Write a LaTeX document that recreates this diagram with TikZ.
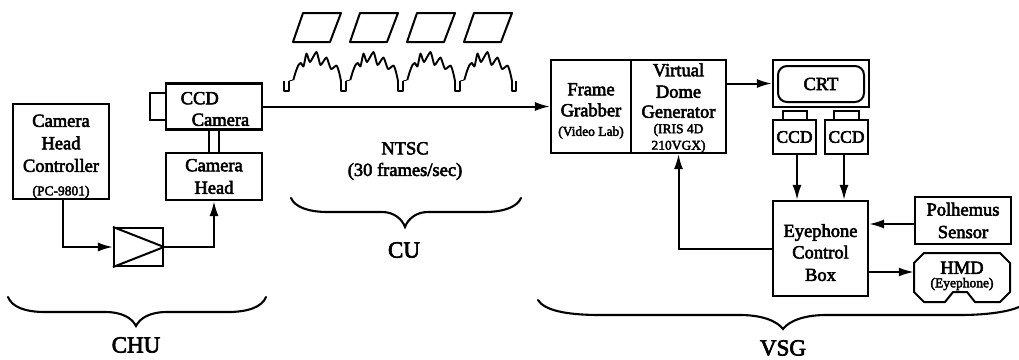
\documentclass[tikz,border=0pt]{standalone}
\usepackage{fontspec}
\setmainfont{Liberation Serif}[FakeBold=3]
\usetikzlibrary{arrows.meta}
\newcommand{\fnt}[1]{\fontsize{#1}{22.5}\selectfont}
\newcommand{\sm}{\fontsize{13.5}{16}\selectfont}
\newcommand{\dn}[1]{\rule{0pt}{#1}}
\tikzset{
  blk/.style={draw,line width=2.1pt,inner sep=0pt,align=center,font=\fnt{18.5},minimum width=#1},
  blk/.default=96pt,
  lnk/.style={line width=2pt,-{Latex[length=15pt,width=9pt]}},
  plain/.style={line width=2pt},
  brc/.style={line width=2.1pt,line cap=round},
  lbl/.style={inner sep=0pt,align=center,font=\fnt{18.5}},
  big/.style={inner sep=0pt,font=\fnt{23}}
}
\begin{document}
\begin{tikzpicture}[x=1pt,y=-1pt]
\useasboundingbox (0,0) rectangle (1019,359);
% boxes
\node[blk,minimum height=95pt] (ctrl) at (61,151.5) {\dn{22pt}Camera\\Head\\Controller\\[1pt]{\sm (PC-9801)}};
\node[blk,minimum height=46pt] (cam) at (214,106.5) {};
\node[lbl,align=left] (camtext) at (215,109) {CCD\\[-1pt]\hspace*{11pt}Camera};
\node[blk,minimum height=47pt] (head) at (214,176.5) {Camera\\Head};
\node[blk=49pt,minimum height=38pt] (amp) at (138.5,247) {};
\node[blk=80pt,minimum height=93pt] (frame) at (591,106.5) {\dn{21pt}Frame\\[-1.5pt]Grabber\\[-3pt]{\sm (Video Lab)}};
\node[blk=95pt,minimum height=93pt] (dome) at (678.5,106.5) {};
\node[lbl] (dometext) at (678.5,108) {Virtual\\[-1pt]Dome\\[-2.5pt]Generator\\[-7pt]{\sm (IRIS 4D}\\[-6pt]{\sm 210VGX)}};
\node[blk,minimum height=47pt,font=\fnt{18.5}] (crt) at (821,83.5) {};
\node[draw,line width=2pt,rounded corners=9pt,minimum width=86pt,minimum height=36pt,inner sep=0pt,font=\fnt{18.5}] (crtin) at (821,84) {CRT};
\node[blk=43pt,minimum height=34pt,font=\fnt{17.5}] (ccda) at (794.5,137) {CCD};
\node[blk=43pt,minimum height=34pt,font=\fnt{17.5}] (ccdb) at (846.5,137) {CCD};
\node[blk=24pt,minimum height=9pt] (taba) at (795,115.5) {};
\node[blk=25pt,minimum height=9pt] (tabb) at (846.5,115.5) {};
\node[blk=95pt,minimum height=95pt] (eye) at (820.5,248.5) {\dn{21pt}Eyephone\\[-1pt]Control\\Box};
\node[blk,minimum height=47pt] (pol) at (963,220.5) {Polhemus\\Sensor};
\node[inner sep=0pt,align=center,font=\fnt{18.5},minimum width=96pt,minimum height=40pt] (hmd) at (962,272) {\dn{20pt}HMD\\[-9pt]{\sm (Eyephone)}};
% HMD outline
\draw[plain,line join=round] (924,253) -- (1000,253) -- (1010,263) -- (1010,292) -- (1000,302) -- (975,302) -- (967,292) -- (953,292) -- (945,302) -- (924,302) -- (914,292) -- (914,263) -- cycle;
% amplifier triangle
\draw[plain,line join=round] (amp.north west) -- (amp.east) -- (amp.south west);
% lens
\draw[plain] ([yshift=13.5pt]cam.west) -- ++(-15,0) -- ++(0,27) -- ++(15,0);
% connectors
\draw[plain] ([xshift=-5pt]cam.south) -- ([xshift=-5pt]head.north);
\draw[plain] ([xshift=5pt]cam.south) -- ([xshift=5pt]head.north);
\draw[lnk] ([xshift=2pt]ctrl.south) |- (amp.west);
\draw[lnk] (amp.east) -| (head.south);
\draw[lnk] (cam.east) -- (frame.west);
\draw[lnk] (crt.west -| dome.east) -- (crt.west);
\draw[lnk] ([xshift=2.5pt]ccda.south) -- ([xshift=2.5pt]ccda.south |- eye.north);
\draw[lnk] ([xshift=-2.5pt]ccdb.south) -- ([xshift=-2.5pt]ccdb.south |- eye.north);
\draw[lnk] ([yshift=-3.5pt]pol.west) -- ([yshift=-3.5pt]pol.west -| eye.east);
\draw[lnk] (eye.east |- hmd.west) -- (hmd.west);
\draw[lnk] (eye.west) -| (dome.south);
% frames and waveforms
\foreach \i in {0,1,2,3}{
  \begin{scope}[shift={(57*\i,0)}]
    \draw[line width=2pt,line join=round] (293,42) -- (330,42) -- (341,13) -- (303,13) -- cycle;
    \draw[line width=1.9pt,line join=round] (284,81) -- (284,90.7) -- (289,90.7) -- (289,81);
    \draw[line width=0.8pt] (289,81) -- (293.3,80);
    \draw[line width=1.9pt,line join=round] plot[smooth,tension=0.35] coordinates {(293.3,80) (296,71) (298.5,65) (301,63) (303.5,66.5) (306.5,53.5) (310,62) (316.5,52) (320.5,65) (326.5,57.5) (331,69) (336.5,65.5) (339,72) (341,81)};
  \end{scope}
}
\draw[line width=1.9pt,line join=round] (512,81) -- (512,90.7) -- (516,90.7) -- (516,81);
% braces
\draw[brc] (8,297) .. controls (12,307) and (25,312) .. (45,312) -- (105,312) .. controls (122,312) and (132,318) .. (136,326) .. controls (140,318) and (150,312) .. (167,312) -- (228,312) .. controls (248,312) and (262,307) .. (266,297);
\draw[brc] (291,198) .. controls (295,207) and (308,212) .. (328,212) -- (382,212) .. controls (394,212) and (402,219) .. (405,227) .. controls (408,219) and (416,212) .. (428,212) -- (484,212) .. controls (504,212) and (517,207) .. (521,198);
\draw[brc] (538,300) .. controls (544,310) and (565,315) .. (600,315) -- (740,315) .. controls (762,315) and (777,321) .. (783,329) .. controls (789,321) and (804,315) .. (826,315) -- (960,315) .. controls (990,315) and (1010,311) .. (1019,307);
% labels
\node[big] (chu) at (136,345) {CHU};
\node[big] (cu) at (404,250) {CU};
\node[big] (vsg) at (783,348) {VSG};
\node[lbl] (ntsc) at (405,161) {NTSC\\[-1pt](30 frames/sec)};
\end{tikzpicture}
\end{document}
